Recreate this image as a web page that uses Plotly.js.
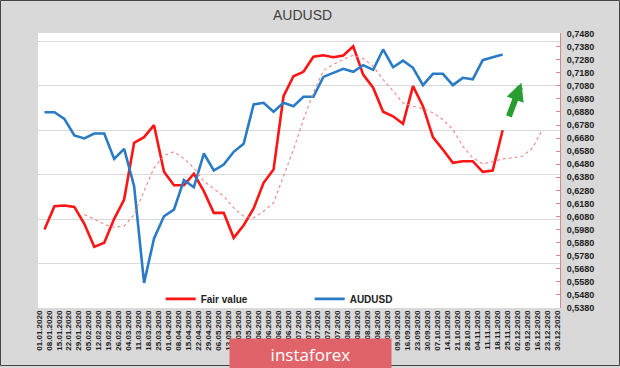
<!DOCTYPE html>
<html>
<head>
<meta charset="utf-8">
<script src="https://cdn.plot.ly/plotly-3.0.1.min.js"></script>
<style>html,body{margin:0;padding:0;background:#d9d9d9;}#chart{width:620px;height:368px;}</style>
</head>
<body>
<div id="chart"></div>
<script>
// Weekly dates (tick labels)
var dates = ["01.01.2020","08.01.2020","15.01.2020","22.01.2020","29.01.2020","05.02.2020","12.02.2020","19.02.2020","26.02.2020","04.03.2020","11.03.2020","18.03.2020","25.03.2020","01.04.2020","08.04.2020","15.04.2020","22.04.2020","29.04.2020","06.05.2020","13.05.2020","20.05.2020","27.05.2020","03.06.2020","10.06.2020","17.06.2020","24.06.2020","01.07.2020","08.07.2020","15.07.2020","22.07.2020","29.07.2020","05.08.2020","12.08.2020","19.08.2020","26.08.2020","02.09.2020","09.09.2020","16.09.2020","23.09.2020","30.09.2020","07.10.2020","14.10.2020","21.10.2020","28.10.2020","04.11.2020","11.11.2020","18.11.2020","25.11.2020","02.12.2020","09.12.2020","16.12.2020","23.12.2020","30.12.2020"];

// Fair value (red)
var fairValue = [0.5980,0.6159,0.6164,0.6154,0.6024,0.5848,0.5879,0.6062,0.6210,0.6644,0.6687,0.6779,0.6422,0.6319,0.6319,0.6407,0.6274,0.6108,0.6108,0.5917,0.6013,0.6141,0.6338,0.6439,0.7000,0.7153,0.7187,0.7302,0.7314,0.7299,0.7312,0.7383,0.7166,0.7065,0.6881,0.6847,0.6789,0.7077,0.6924,0.6687,0.6592,0.6491,0.6503,0.6503,0.6422,0.6432,0.6740];

// AUDUSD (blue)
var audusd = [0.6878,0.6878,0.6827,0.6700,0.6677,0.6715,0.6715,0.6521,0.6598,0.6312,0.5572,0.5912,0.6082,0.6133,0.6358,0.6304,0.6562,0.6432,0.6478,0.6575,0.6636,0.6937,0.6950,0.6881,0.6950,0.6924,0.6996,0.6996,0.7148,0.7179,0.7210,0.7187,0.7238,0.7202,0.7358,0.7222,0.7273,0.7218,0.7085,0.7172,0.7172,0.7085,0.7141,0.7130,0.7276,0.7299,0.7319];

// Fair value moving average (dotted)
var fairAvg = [null,null,null,null,0.6095,0.6062,0.6019,0.5998,0.6006,0.6095,0.6274,0.6452,0.6547,0.6575,0.6524,0.6452,0.6350,0.6294,0.6235,0.6146,0.6082,0.6070,0.6120,0.6185,0.6390,0.6592,0.6822,0.7026,0.7197,0.7243,0.7281,0.7314,0.7289,0.7230,0.7128,0.7039,0.6950,0.6924,0.6905,0.6873,0.6822,0.6746,0.6618,0.6529,0.6483,0.6500,0.6521,0.6529,0.6541,0.6605,0.6746];

var seriesNames = ["Fair value", "AUDUSD"];
var chartTitle = "AUDUSD";
var watermark = "instaforex";

var yRange = [0.538, 0.7484];

var traces = [
  {x: dates.slice(0, fairValue.length), y: fairValue, name: seriesNames[0], type: 'scatter', mode: 'lines',
   line: {color: '#ff1414', width: 2.6}, hoverinfo: 'skip'},
  {x: dates.slice(0, audusd.length), y: audusd, name: seriesNames[1], type: 'scatter', mode: 'lines',
   line: {color: '#2a7bc6', width: 2.6}, hoverinfo: 'skip'},
  {x: dates.slice(0, fairAvg.length), y: fairAvg, name: 'avg', type: 'scatter', mode: 'lines', showlegend: false,
   line: {color: '#f08484', width: 1.1, dash: 'dot'}, hoverinfo: 'skip'},
  {x: dates, y: dates.map(function(){return null;}), xaxis: 'x2', yaxis: 'y2', type: 'scatter', mode: 'lines',
   showlegend: false, hoverinfo: 'skip'}
];

var layout = {
  width: 620, height: 368,
  margin: {l: 38, r: 60, t: 33, b: 60},
  paper_bgcolor: '#d9d9d9',
  plot_bgcolor: '#ffffff',
  separators: ', ',
  showlegend: true,
  title: {text: chartTitle, x: 0.488, xanchor: 'center', y: 0.959, yanchor: 'middle',
          font: {family: 'Liberation Sans, Arial, sans-serif', size: 14, color: '#404040'}},
  xaxis: {type: 'category', range: [-0.65, 51.76], showticklabels: false, showgrid: false,
          zeroline: false, showline: false, ticks: ''},
  xaxis2: {type: 'category', overlaying: 'x', anchor: 'y2', side: 'bottom', range: [-0.1, 52.31],
           tickmode: 'linear', tick0: 0, dtick: 1,
           tickangle: -90, showgrid: false, zeroline: false, showline: false, ticks: '',
           tickfont: {family: 'Liberation Sans, Arial, sans-serif', size: 8, color: '#222', weight: 'bold'}},
  yaxis: {side: 'right', range: yRange, tick0: 0.538, dtick: 0.01, tickformat: '.4f',
          showgrid: false, zeroline: false, showline: true, linecolor: '#d58a8a', linewidth: 1,
          ticks: 'inside', ticklen: 4, tickcolor: '#d58a8a', ticklabelstandoff: 4,
          tickfont: {family: 'Liberation Sans, Arial, sans-serif', size: 9, color: '#222', weight: 'bold'}},
  yaxis2: {overlaying: 'y', anchor: 'x2', range: yRange, tick0: 0.538, dtick: 0.034,
           showgrid: true, gridcolor: '#d9d9d9', gridwidth: 1, showticklabels: false, zeroline: false, ticks: ''},
  legend: {orientation: 'h', x: 0.235, xanchor: 'left', y: 0.033, yanchor: 'middle',
           bgcolor: 'rgba(0,0,0,0)', entrywidth: 104,
           font: {family: 'Liberation Sans, Arial, sans-serif', size: 10, color: '#222', weight: 'bold'}},
  annotations: [
    {xref: 'x', yref: 'y', axref: 'x', ayref: 'y', x: 47.9, y: 0.7103, ax: 46.57, ay: 0.6835,
     showarrow: true, arrowhead: 2, arrowsize: 0.6, arrowwidth: 6, arrowcolor: '#2a9d32', standoff: 0, text: ''},
    {xref: 'paper', yref: 'paper', x: 0.522, y: -0.1673, xanchor: 'center', yanchor: 'middle',
     text: watermark, showarrow: false, bgcolor: '#e0636a', width: 161, height: 30, borderpad: 0,
     font: {family: 'Open Sans, sans-serif', size: 17, color: '#ffffff'}}
  ],
  shapes: [
    {type: 'rect', xref: 'paper', yref: 'paper', x0: (0.5 - 38) / 522, x1: (619.5 - 38) / 522,
     y0: (308 - 365.5) / 275, y1: (308 - 0.5) / 275, line: {color: '#444', width: 1}, layer: 'above'}
  ]
};

Plotly.newPlot('chart', traces, layout, {staticPlot: true, displayModeBar: false});
</script>
</body>
</html>
